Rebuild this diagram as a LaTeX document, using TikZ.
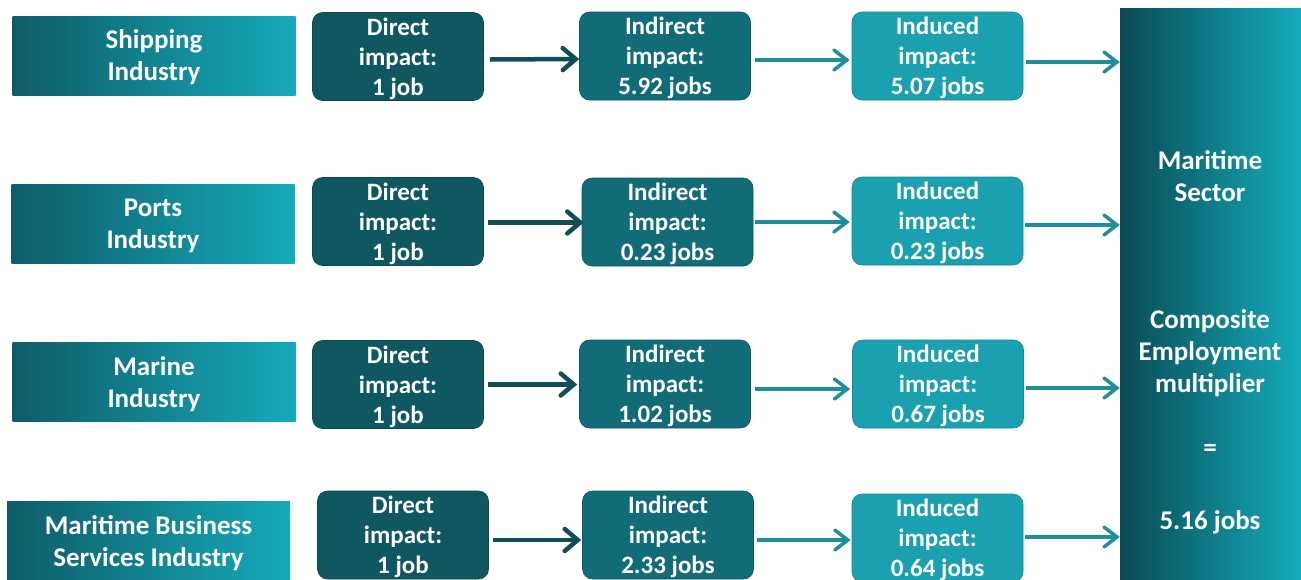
\documentclass[tikz,border=0pt]{standalone}
\usepackage{fontspec}
\setmainfont{Carlito}
\usetikzlibrary{arrows.meta,calc}
\definecolor{cdirect}{RGB}{15,87,97}
\definecolor{cindirect}{RGB}{18,108,119}
\definecolor{cinduced}{RGB}{26,160,175}
\definecolor{gdark}{RGB}{14,92,104}
\definecolor{glight}{RGB}{22,170,186}
\definecolor{bdark}{RGB}{10,74,84}
\definecolor{blight}{RGB}{20,172,188}
\definecolor{adark}{RGB}{18,78,88}
\definecolor{alight}{RGB}{30,142,154}
\tikzset{
  txt/.style={text=white,font=\bfseries\fontsize{25}{30}\selectfont,align=center,inner sep=0pt},
  bigtxt/.style={txt,font=\bfseries\fontsize{27}{32}\selectfont},
  industry/.style={bigtxt,text depth=0pt,left color=gdark,right color=glight,shading angle=90,minimum width=283pt,minimum height=79pt},
  impact/.style={txt,text depth=0pt,rounded corners=10pt,minimum width=171pt,minimum height=88pt},
  directbox/.style={impact,fill=cdirect,draw=cdirect!80!black,line width=0.6pt},
  indirectbox/.style={impact,fill=cindirect,draw=cindirect!80!black,line width=0.6pt},
  inducedbox/.style={impact,fill=cinduced,draw=cinduced!85!black,line width=0.6pt},
  darrow/.style={draw=adark,line width=4.5pt,-{Straight Barb[length=13pt,width=22pt,line cap=round]}},
  larrow/.style={draw=alight,line width=3.5pt,-{Straight Barb[length=13pt,width=20pt,line cap=round]}},
}
\begin{document}
\begin{tikzpicture}[x=1pt,y=-1pt]
\useasboundingbox (0,0) rectangle (1301,579);
% big bar
\node[inner sep=0pt,minimum width=181pt,minimum height=581pt,left color=bdark,right color=blight] (bar) at (1210.5,298.5) {};
\node[bigtxt] (t1) at (1210,176) {Maritime\\Sector};
\node[bigtxt] (t2) at (1210,353) {Composite\\Employment\\multiplier};
\node[bigtxt] (t3) at (1210,450) {=};
\node[bigtxt] (t4) at (1210,522) {5.16 jobs};
% row 1
\node[industry] (s1) at (154,55.5) {Shipping\\Industry};
\node[directbox] (d1) at (398,56.5) {Direct\\impact:\\1 job};
\node[indirectbox] (i1) at (665,56) {Indirect\\impact:\\5.92 jobs};
\node[inducedbox] (n1) at (937.5,56) {Induced\\impact:\\5.07 jobs};
% row 2
\node[industry] (s2) at (153,224) {Ports\\Industry};
\node[directbox] (d2) at (398,221.5) {Direct\\impact:\\1 job};
\node[indirectbox] (i2) at (667.5,222) {Indirect\\impact:\\0.23 jobs};
\node[inducedbox] (n2) at (937.5,221) {Induced\\impact:\\0.23 jobs};
% row 3
\node[industry] (s3) at (154,382) {Marine\\Industry};
\node[directbox] (d3) at (398,384.5) {Direct\\impact:\\1 job};
\node[indirectbox] (i3) at (665,384) {Indirect\\impact:\\1.02 jobs};
\node[inducedbox] (n3) at (938,384) {Induced\\impact:\\0.67 jobs};
% row 4
\node[industry] (s4) at (148.5,541) {Maritime Business\\Services Industry};
\node[directbox] (d4) at (403,535) {Direct\\impact:\\1 job};
\node[indirectbox] (i4) at (668,535) {Indirect\\impact:\\2.33 jobs};
\node[inducedbox] (n4) at (937.5,538) {Induced\\impact:\\0.64 jobs};
% arrows row 1
\draw[darrow] ([xshift=6pt,yshift=-3pt]d1.east) -- ([yshift=-3pt]i1.west);
\draw[larrow] ([xshift=4pt,yshift=-4pt]i1.east) -- ([xshift=-2pt,yshift=-4pt]n1.west);
\draw[larrow] ([xshift=3pt,yshift=-6pt]n1.east) -- ([yshift=-6pt]n1.east -| bar.west);
% arrows row 2
\draw[darrow] ([xshift=4pt,yshift=-1pt]d2.east) -- ([xshift=2pt,yshift=-1pt]d2.east -| i2.west);
\draw[larrow] ([xshift=2pt,yshift=0pt]i2.east) -- ([xshift=-2pt,yshift=-1pt]n2.west);
\draw[larrow] ([xshift=2pt,yshift=-4pt]n2.east) -- ([yshift=-4pt]n2.east -| bar.west);
% arrows row 3
\draw[darrow] ([xshift=4pt]d3.east) -- ([xshift=-2pt,yshift=-0.5pt]i3.west);
\draw[larrow] ([xshift=4pt,yshift=-5pt]i3.east) -- ([xshift=-2pt,yshift=-5pt]n3.west);
\draw[larrow] ([xshift=2pt,yshift=-4pt]n3.east) -- ([yshift=-4pt]n3.east -| bar.west);
% arrows row 4
\draw[darrow] ([xshift=4pt,yshift=-5pt]d4.east) -- ([xshift=-1pt,yshift=-5pt]i4.west);
\draw[larrow] ([xshift=3pt,yshift=-5pt]i4.east) -- ([xshift=-1pt,yshift=-2pt]n4.west);
\draw[larrow] ([xshift=2pt,yshift=1pt]n4.east) -- ([yshift=1pt]n4.east -| bar.west);
\end{tikzpicture}
\end{document}
